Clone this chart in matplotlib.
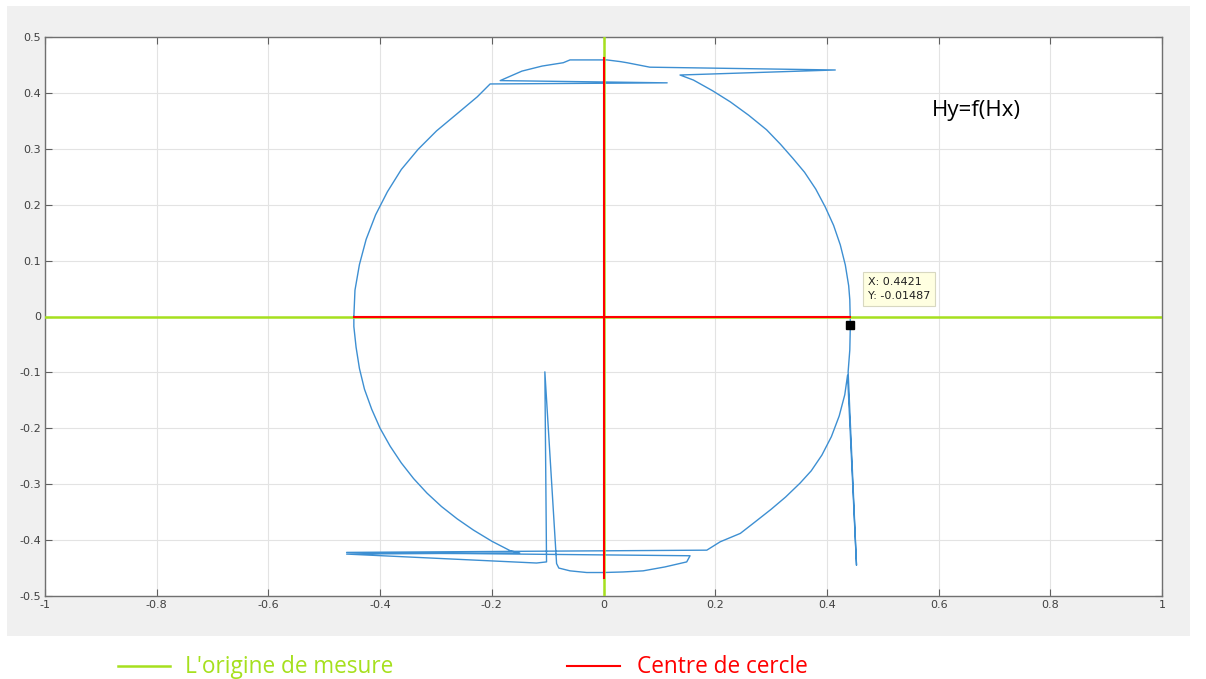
import matplotlib
matplotlib.use("Agg")
import matplotlib.pyplot as plt
from matplotlib.patches import Rectangle

# ── Data ──────────────────────────────────────────────────────────────────
hx = [-0.447, -0.445, -0.437, -0.425, -0.408, -0.387, -0.362, -0.332, -0.299,
      -0.263, -0.226, -0.203, 0.114, -0.185, -0.146, -0.110, -0.072, -0.060,
      0.006, 0.030, 0.042, 0.083, 0.415, 0.137,
      0.161, 0.195, 0.227, 0.260, 0.292, 0.317, 0.339, 0.360, 0.380, 0.397,
      0.412, 0.424, 0.433, 0.439, 0.441, 0.442, 0.441, 0.438, 0.453,
      0.437, 0.432, 0.422, 0.408, 0.391, 0.372, 0.352, 0.326, 0.300, 0.272,
      0.245, 0.209, 0.185, -0.460, 0.155, 0.149, 0.110, 0.071, 0.035, 0.000,
      -0.030, -0.060, -0.080, -0.084, -0.105, -0.102, -0.120, -0.460, -0.150,
      -0.167, -0.200, -0.233, -0.262, -0.290, -0.316, -0.340, -0.362, -0.382,
      -0.400, -0.415, -0.428, -0.437, -0.443, -0.447, -0.447]
hy = [0.000, 0.047, 0.093, 0.138, 0.182, 0.223, 0.263, 0.299, 0.332,
      0.362, 0.393, 0.416, 0.418, 0.422, 0.439, 0.448, 0.454, 0.459,
      0.459, 0.456, 0.454, 0.446, 0.441, 0.432,
      0.423, 0.404, 0.384, 0.360, 0.334, 0.308, 0.283, 0.258, 0.228, 0.196,
      0.163, 0.128, 0.092, 0.055, 0.030, -0.015, -0.060, -0.099, -0.445,
      -0.105, -0.140, -0.178, -0.215, -0.248, -0.276, -0.298, -0.323, -0.345, -0.367,
      -0.388, -0.403, -0.418, -0.422, -0.428, -0.439, -0.448, -0.455, -0.457, -0.458,
      -0.458, -0.455, -0.450, -0.442, -0.099, -0.439, -0.441, -0.425, -0.423,
      -0.419, -0.402, -0.382, -0.362, -0.340, -0.316, -0.290, -0.262, -0.232,
      -0.200, -0.166, -0.130, -0.093, -0.055, -0.018, 0.000]

origin_x = [-1, 1]          # green axis through the measurement origin
origin_y = [-0.5, 0.5]
centre_x = [-0.447, 0.442]  # red cross through the circle centre
centre_y = [-0.468, 0.462]

tip_x, tip_y = 0.4421, -0.01487

x_ticks = [-1, -0.8, -0.6, -0.4, -0.2, 0, 0.2, 0.4, 0.6, 0.8, 1]
x_labels = ["-1", "-0.8", "-0.6", "-0.4", "-0.2", "0", "0.2", "0.4", "0.6", "0.8", "1"]
y_ticks = [-0.5, -0.4, -0.3, -0.2, -0.1, 0, 0.1, 0.2, 0.3, 0.4, 0.5]
y_labels = ["-0.5", "-0.4", "-0.3", "-0.2", "-0.1", "0", "0.1", "0.2", "0.3", "0.4", "0.5"]

GREEN = "#a6e01e"
RED = "#ff0000"
BLUE = "#3d8fd2"

# ── Figure ─────────────────────────────────────────────────────────────────
W, H = 1206, 679
fig = plt.figure(figsize=(W / 100, H / 100), dpi=100)
fig.patch.set_facecolor("white")

# grey MATLAB figure panel (behind the axes)
fig.patches.append(Rectangle((7 / W, 1 - 636 / H), (1190 - 7) / W, (636 - 6) / H,
                             transform=fig.transFigure, facecolor="#f0f0f0",
                             edgecolor="none", zorder=-10))

ax = fig.add_axes([45 / W, 1 - 596 / H, (1162 - 45) / W, (596 - 37) / H])
ax.set_zorder(1)
ax.set_facecolor("white")

ax.plot(hx, hy, color=BLUE, lw=1.0, zorder=3)
ax.plot(origin_x, [0, 0], color=GREEN, lw=1.8, zorder=4)
ax.plot([0, 0], origin_y, color=GREEN, lw=1.8, zorder=4)
ax.plot(centre_x, [0, 0], color=RED, lw=1.5, zorder=5)
ax.plot([0, 0], centre_y, color=RED, lw=1.5, zorder=5)

# data tip
ax.plot([tip_x], [tip_y], marker="s", color="black", ms=6, zorder=7)
ax.text(tip_x + 0.031, 0.071, f"X: {tip_x}\nY: {tip_y}", fontsize=8,
        va="top", ha="left", color="#202020", linespacing=1.5, zorder=8,
        bbox=dict(boxstyle="square,pad=0.45", facecolor="#ffffe1",
                  edgecolor="#d8d8c0", lw=0.8))

ax.text(0.588, 0.368, "Hy=f(Hx)", fontsize=16, color="black", va="center",
        family="Open Sans")

ax.set_xlim(-1, 1)
ax.set_ylim(-0.5, 0.5)
ax.set_xticks(x_ticks)
ax.set_xticklabels(x_labels)
ax.set_yticks(y_ticks)
ax.set_yticklabels(y_labels)
ax.grid(True, color="#e3e3e3", lw=0.8, zorder=0)
ax.set_axisbelow(True)
ax.tick_params(direction="in", length=5, width=0.8, colors="#606060",
               labelcolor="#404040", labelsize=8, top=True, right=True, pad=3)
for s in ax.spines.values():
    s.set_color("#707070")
    s.set_linewidth(1.0)

# legend drawn under the panel
fig.lines.append(plt.Line2D([118 / W, 170 / W], [1 - 666 / H] * 2,
                            transform=fig.transFigure, color=GREEN, lw=1.8))
fig.text(185 / W, 1 - 667 / H, "L'origine de mesure", color=GREEN,
         fontsize=16.3, va="center", family="Open Sans")
fig.lines.append(plt.Line2D([567 / W, 620 / W], [1 - 666 / H] * 2,
                            transform=fig.transFigure, color=RED, lw=1.5))
fig.text(637 / W, 1 - 667 / H, "Centre de cercle", color=RED,
         fontsize=16.3, va="center", family="Open Sans")

fig.savefig("out.png", dpi=100)
